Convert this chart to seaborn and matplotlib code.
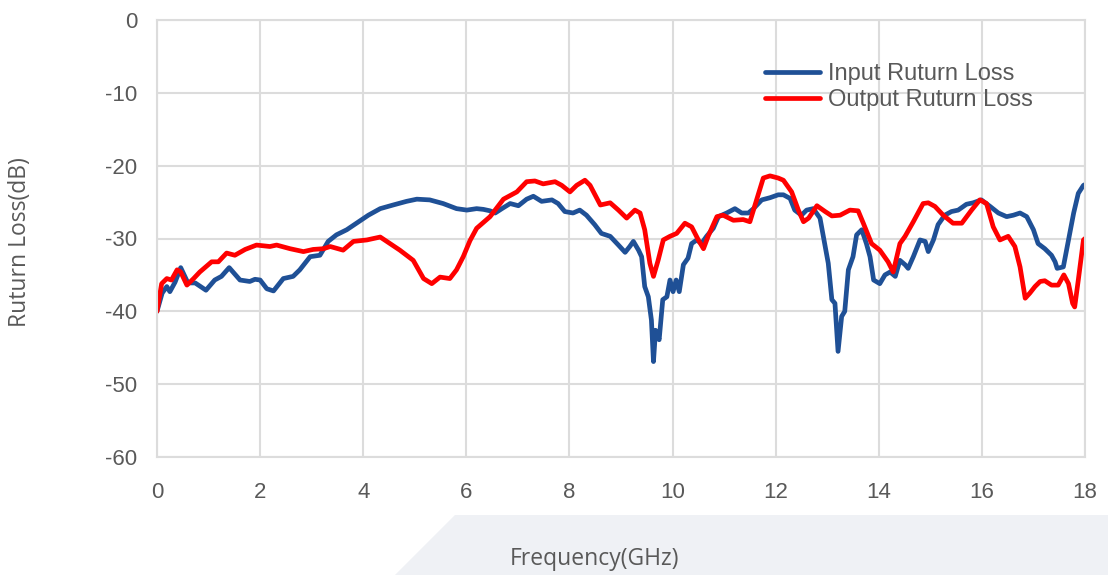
import matplotlib
matplotlib.use("Agg")
import matplotlib.pyplot as plt
from matplotlib.patches import Polygon
import numpy as np
import pandas as pd
import seaborn as sns

# Input return loss (blue)
in_freq = [0.00, 0.10, 0.19, 0.25, 0.35, 0.46, 0.60, 0.74, 0.95, 1.12, 1.25, 1.40, 1.50, 1.61,
           1.80, 1.90, 2.00, 2.13, 2.26, 2.45, 2.64, 2.77, 2.97, 3.16, 3.32, 3.48, 3.68, 3.87,
           4.10, 4.33, 4.58, 4.84, 5.04, 5.29, 5.55, 5.81, 6.01, 6.20, 6.33, 6.46, 6.56, 6.69,
           6.85, 7.01, 7.17, 7.30, 7.46, 7.66, 7.78, 7.91, 8.07, 8.20, 8.33, 8.49, 8.62, 8.79,
           8.95, 9.08, 9.17, 9.24, 9.34, 9.40, 9.46, 9.53, 9.59, 9.63, 9.67, 9.74, 9.81, 9.89,
           9.95, 10.01, 10.07, 10.13, 10.21, 10.30, 10.37, 10.47, 10.56, 10.66, 10.79, 10.89,
           11.05, 11.21, 11.34, 11.47, 11.57, 11.73, 11.89, 12.05, 12.15, 12.28, 12.37, 12.50,
           12.60, 12.73, 12.86, 12.96, 13.02, 13.09, 13.15, 13.21, 13.28, 13.34, 13.41, 13.50,
           13.57, 13.67, 13.76, 13.83, 13.90, 14.02, 14.12, 14.22, 14.32, 14.41, 14.51, 14.57,
           14.67, 14.80, 14.90, 14.96, 15.06, 15.15, 15.28, 15.41, 15.54, 15.70, 15.83, 15.99,
           16.16, 16.32, 16.48, 16.61, 16.74, 16.87, 17.00, 17.09, 17.22, 17.35, 17.42, 17.46,
           17.58, 17.68, 17.78, 17.87, 17.97, 18.00]
in_loss = [-40.0, -37.5, -36.6, -37.3, -36.0, -34.0, -36.1, -36.1, -37.1, -35.7, -35.2, -34.0,
           -34.8, -35.7, -35.9, -35.6, -35.7, -36.9, -37.2, -35.5, -35.2, -34.3, -32.5, -32.3,
           -30.4, -29.5, -28.8, -27.9, -26.8, -25.9, -25.4, -24.9, -24.6, -24.7, -25.2, -25.9,
           -26.1, -25.9, -26.0, -26.2, -26.5, -25.9, -25.2, -25.5, -24.6, -24.2, -24.9, -24.7,
           -25.2, -26.3, -26.5, -26.1, -26.8, -28.1, -29.3, -29.7, -30.9, -31.9, -31.1, -30.4,
           -31.6, -32.5, -36.6, -38.0, -41.2, -46.9, -42.6, -43.9, -38.4, -38.0, -35.7, -37.3,
           -35.7, -37.3, -33.6, -32.7, -30.7, -30.2, -30.7, -29.7, -28.6, -27.0, -26.5, -25.9,
           -26.5, -26.5, -25.9, -24.7, -24.4, -24.0, -24.0, -24.5, -26.1, -26.8, -26.1, -25.9,
           -27.2, -31.1, -33.4, -38.4, -38.9, -45.5, -40.7, -40.0, -34.3, -32.5, -29.5, -28.8,
           -30.7, -32.5, -35.7, -36.2, -35.0, -34.6, -35.2, -33.0, -33.6, -34.1, -32.5, -30.2,
           -30.4, -31.8, -30.2, -28.1, -26.8, -26.3, -26.1, -25.3, -25.1, -24.7, -25.6, -26.5,
           -27.0, -26.8, -26.5, -27.0, -28.8, -30.7, -31.4, -32.3, -33.2, -34.1, -33.9, -30.2,
           -26.5, -23.8, -22.7, -22.6]

# Output return loss (red)
out_freq = [0.00, 0.09, 0.19, 0.28, 0.39, 0.46, 0.58, 0.71, 0.83, 1.06, 1.19, 1.35, 1.51, 1.71,
            1.93, 2.19, 2.32, 2.58, 2.84, 3.03, 3.23, 3.36, 3.61, 3.81, 4.07, 4.33, 4.52, 4.71,
            4.97, 5.17, 5.33, 5.49, 5.68, 5.81, 5.94, 6.07, 6.20, 6.46, 6.72, 6.98, 7.17, 7.33,
            7.49, 7.72, 7.85, 8.01, 8.14, 8.30, 8.40, 8.60, 8.79, 8.95, 9.11, 9.27, 9.37, 9.46,
            9.56, 9.63, 9.72, 9.82, 9.95, 10.08, 10.24, 10.37, 10.50, 10.60, 10.69, 10.86, 10.98,
            11.18, 11.37, 11.50, 11.63, 11.76, 11.89, 12.05, 12.15, 12.31, 12.44, 12.54, 12.64,
            12.80, 12.96, 13.09, 13.25, 13.44, 13.60, 13.70, 13.86, 14.02, 14.18, 14.28, 14.41,
            14.51, 14.67, 14.86, 14.96, 15.09, 15.25, 15.44, 15.61, 15.80, 15.96, 16.09, 16.22,
            16.35, 16.51, 16.64, 16.74, 16.84, 16.93, 17.03, 17.13, 17.22, 17.35, 17.48, 17.59,
            17.68, 17.76, 17.80, 17.87, 17.97, 18.00]
out_loss = [-40.0, -36.2, -35.5, -35.7, -34.3, -34.6, -36.4, -35.5, -34.6, -33.2, -33.2, -32.0,
            -32.3, -31.5, -30.9, -31.1, -30.9, -31.4, -31.8, -31.5, -31.4, -31.1, -31.6, -30.4,
            -30.2, -29.8, -30.7, -31.6, -33.0, -35.5, -36.2, -35.3, -35.5, -34.3, -32.5, -30.3,
            -28.6, -27.0, -24.6, -23.6, -22.2, -22.1, -22.5, -22.2, -22.7, -23.6, -22.7, -22.0,
            -22.7, -25.4, -25.1, -26.1, -27.2, -26.1, -26.5, -28.8, -33.4, -35.2, -33.0, -30.2,
            -29.7, -29.3, -27.9, -28.4, -30.2, -31.4, -29.7, -27.0, -26.8, -27.5, -27.4, -27.7,
            -24.7, -21.7, -21.4, -21.7, -22.0, -23.6, -26.1, -27.7, -27.2, -25.5, -26.3, -26.9,
            -26.8, -26.1, -26.2, -27.9, -30.7, -31.6, -33.2, -34.6, -30.7, -29.7, -27.7, -25.2,
            -25.1, -25.6, -26.8, -27.9, -27.9, -26.1, -24.7, -25.2, -28.4, -30.2, -29.7, -31.1,
            -33.9, -38.2, -37.5, -36.6, -35.9, -35.8, -36.4, -36.4, -35.0, -36.2, -38.9, -39.4,
            -35.7, -30.2, -30.0]

x_ticks = [0, 2, 4, 6, 8, 10, 12, 14, 16, 18]
y_ticks = [0, -10, -20, -30, -40, -50, -60]
series_names = ["Input Ruturn Loss", "Output Ruturn Loss"]

df = pd.concat([
    pd.DataFrame({"freq": in_freq, "loss": in_loss, "series": series_names[0]}),
    pd.DataFrame({"freq": out_freq, "loss": out_loss, "series": series_names[1]}),
])

sns.set_style("whitegrid")
plt.rcParams["font.family"] = ["Liberation Sans", "DejaVu Sans"]
plt.rcParams["axes.unicode_minus"] = False

W, H = 1108, 575
fig = plt.figure(figsize=(W / 100, H / 100), dpi=100, facecolor="white")
fig.patches.append(Polygon([(455 / W, 1 - 515 / H), (1, 1 - 515 / H), (1, 0), (395 / W, 0)],
                           closed=True, transform=fig.transFigure, facecolor="#eff1f5",
                           edgecolor="none", zorder=-1))
ax = fig.add_axes([157 / W, 1 - 457 / H, (1085 - 157) / W, (457 - 20) / H])

sns.lineplot(data=df, x="freq", y="loss", hue="series", palette=["#1f5096", "#ff0000"],
             linewidth=3.4, ax=ax, estimator=None, sort=False)

ax.set_xlim(0, 18)
ax.set_ylim(-60, 0)
ax.set_xticks(x_ticks)
ax.set_yticks(y_ticks)
ax.grid(True, color="#dcdcdc", linewidth=1.5)
for s in ax.spines.values():
    s.set_color("#dcdcdc")
    s.set_linewidth(1.5)
ax.tick_params(axis="both", length=0, labelsize=16, labelcolor="#595959")
ax.tick_params(axis="x", pad=18)
ax.tick_params(axis="y", pad=14)

label_font = ["Open Sans", "DejaVu Sans"]
ax.set_xlabel("Frequency(GHz)", fontsize=16.5, color="#595959", family=label_font)
ax.set_ylabel("Ruturn Loss(dB)", fontsize=16.5, color="#595959", family=label_font)
ax.xaxis.set_label_coords((594 - 157) / 928, (457 - 559) / 437)
ax.xaxis.label.set_va("center")
ax.yaxis.set_label_coords((20 - 157) / 928, (457 - 242) / 437)
ax.yaxis.label.set_va("center")

leg = ax.legend(loc="center left", bbox_to_anchor=(765 / W, 1 - 87 / H),
                bbox_transform=fig.transFigure, frameon=False, fontsize=17,
                handlelength=2.35, handletextpad=0.33, labelspacing=0.18,
                borderpad=0, borderaxespad=0)
for t in leg.get_texts():
    t.set_color("#595959")
for line in leg.get_lines():
    line.set_linewidth(3.4)

fig.savefig("out.png", dpi=100, facecolor="white")
